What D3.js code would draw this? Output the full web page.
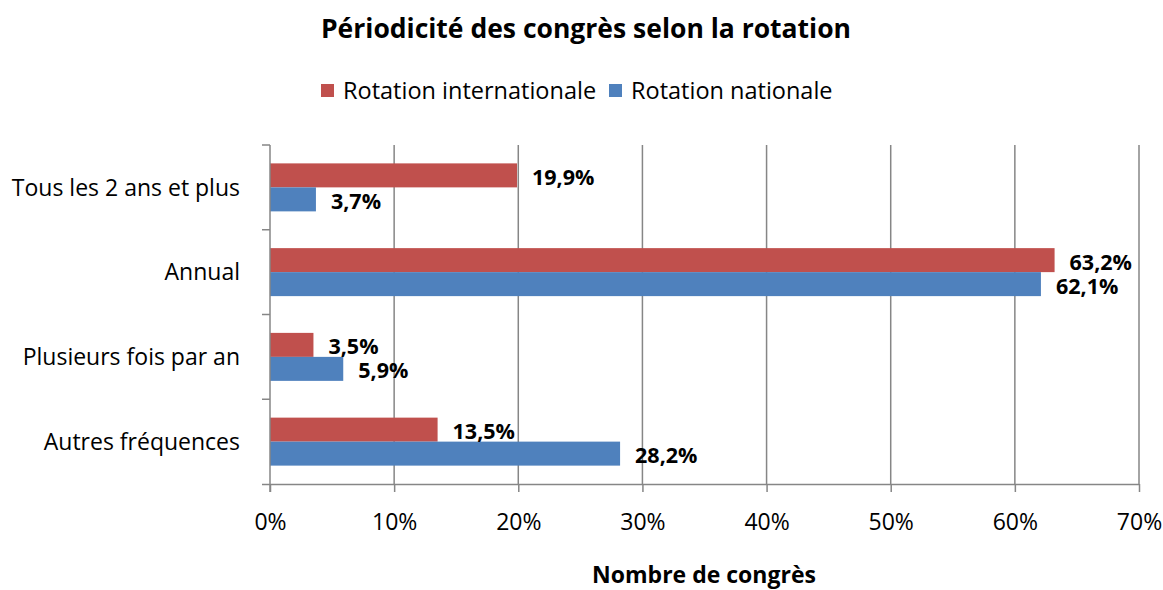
<!DOCTYPE html>
<html>
<head>
<meta charset="utf-8">
<script src="https://cdn.jsdelivr.net/npm/d3@7"></script>
<style>
  body { margin: 0; background: #fff; }
  text { font-family: "Open Sans", sans-serif; fill: #000; }
</style>
</head>
<body>
<div id="chart"></div>
<script>
let categories = ["Tous les 2 ans et plus", "Annual", "Plusieurs fois par an", "Autres fréquences"];
let seriesNames = ["Rotation internationale", "Rotation nationale"];
let international = [19.9, 63.2, 3.5, 13.5];
let national = [3.7, 62.1, 5.9, 28.2];
let xTicks = [0, 0.1, 0.2, 0.3, 0.4, 0.5, 0.6, 0.7];

const width = 1163, height = 590;
const colors = ["#C0504D", "#4F81BD"];
const gridColor = "#868686";
const fontFam = '"Open Sans", sans-serif';

const fr = d3.formatLocale({ decimal: ",", thousands: " ", grouping: [3], currency: ["", " €"] });
const pct = fr.format(".1f");

let svg = d3.select("#chart").append("svg")
  .attr("width", width)
  .attr("height", height);

let x = d3.scaleLinear().domain([0, 0.7]).range([270, 1139]);
let y = d3.scaleBand().domain(categories).range([145, 484]).paddingInner(0).paddingOuter(0);
let y1 = d3.scaleBand().domain(seriesNames).range([0, y.bandwidth()]).paddingInner(0).paddingOuter(0.766);

// gridlines
svg.append("g")
  .selectAll("line")
  .data(xTicks.slice(1))
  .enter().append("line")
    .attr("x1", d => x(d)).attr("x2", d => x(d))
    .attr("y1", 145).attr("y2", 484)
    .attr("stroke", gridColor).attr("stroke-width", 1.5);

// bars
let rows = categories.map((c, i) => ({ cat: c, values: [international[i], national[i]] }));

let groups = svg.append("g").selectAll("g")
  .data(rows)
  .enter().append("g")
    .attr("transform", d => "translate(0," + y(d.cat) + ")");

groups.selectAll("rect")
  .data(d => d.values.map((v, j) => ({ name: seriesNames[j], v: v, j: j })))
  .enter().append("rect")
    .attr("x", x(0))
    .attr("y", d => y1(d.name))
    .attr("width", d => x(d.v / 100) - x(0))
    .attr("height", y1.bandwidth())
    .attr("fill", d => colors[d.j]);

groups.selectAll("text")
  .data(d => d.values.map((v, j) => ({ name: seriesNames[j], v: v, j: j })))
  .enter().append("text")
    .attr("x", d => x(d.v / 100) + 15)
    .attr("y", d => y1(d.name) + y1.bandwidth() / 2)
    .attr("dy", "0.44em")
    .style("font-size", "21.5px")
    .style("font-weight", "bold")
    .text(d => pct(d.v) + "%");

// x axis
let xAxis = svg.append("g")
  .attr("transform", "translate(0,484)")
  .call(d3.axisBottom(x).tickValues(xTicks).tickFormat(d3.format(".0%")).tickSize(8).tickSizeOuter(0).tickPadding(22));
xAxis.select(".domain").attr("stroke", gridColor).attr("stroke-width", 1.5).attr("d", "M262,0.5H1139");
xAxis.selectAll(".tick line").attr("stroke", gridColor).attr("stroke-width", 1.5);
xAxis.selectAll(".tick text").style("font-size", "23px").style("font-family", fontFam);

// y axis
let yAxis = svg.append("g")
  .attr("transform", "translate(270,0)")
  .call(d3.axisLeft(y).tickSize(0).tickPadding(30));
yAxis.select(".domain").attr("stroke", gridColor).attr("stroke-width", 1.5).attr("d", "M0,145V492");
yAxis.selectAll(".tick text").style("font-size", "23px").style("font-family", fontFam).attr("dy", "0.36em");

let edges = categories.map(c => y(c));
yAxis.selectAll(".edge")
  .data(edges)
  .enter().append("line")
    .attr("x1", -8).attr("x2", 0)
    .attr("y1", d => d).attr("y2", d => d)
    .attr("stroke", gridColor).attr("stroke-width", 1.5);

// title
svg.append("text")
  .attr("x", 586).attr("y", 38)
  .attr("text-anchor", "middle")
  .style("font-size", "26.5px").style("font-weight", "bold")
  .text("Périodicité des congrès selon la rotation");

// axis title
svg.append("text")
  .attr("x", 704).attr("y", 583)
  .attr("text-anchor", "middle")
  .style("font-size", "23px").style("font-weight", "bold")
  .text("Nombre de congrès");

// legend
let legendX = [321, 609];
let legend = svg.append("g").selectAll("g")
  .data(seriesNames)
  .enter().append("g")
    .attr("transform", (d, i) => "translate(" + legendX[i] + ",84)");
legend.append("rect")
  .attr("width", 13).attr("height", 13)
  .attr("fill", (d, i) => colors[i]);
legend.append("text")
  .attr("x", 22).attr("y", 7)
  .attr("dy", "0.36em")
  .style("font-size", "23.5px")
  .text(d => d);
</script>
</body>
</html>
